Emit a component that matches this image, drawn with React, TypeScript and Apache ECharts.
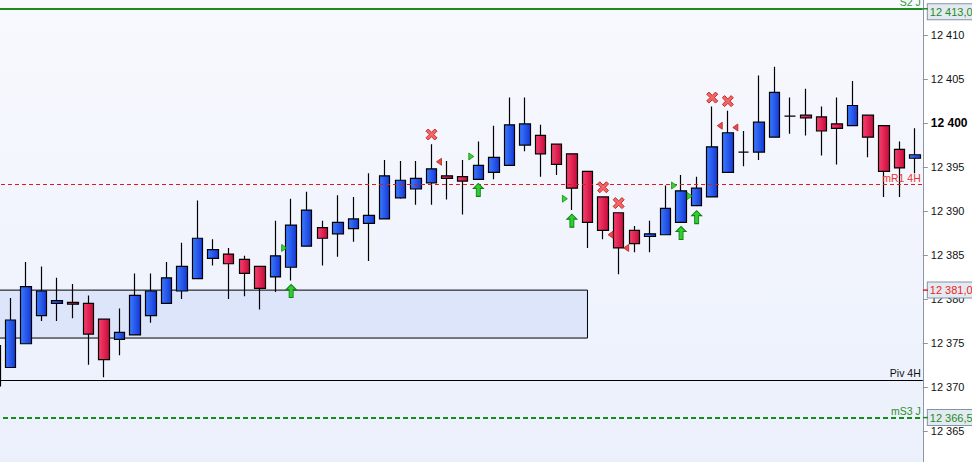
import React, { useEffect, useRef } from 'react';
import * as echarts from 'echarts';

// OHLC per bar (first bar is partly hidden at the left edge)
const opens = [12370.1, 12372.2, 12374.9, 12378.1, 12379.5, 12379.6, 12379.5, 12377.7, 12375.4, 12375.9,
  12378.1, 12379.5, 12380.9, 12382.3, 12384.6, 12385.1, 12384.5, 12383.7, 12382.5, 12383.6,
  12386.0, 12388.1, 12387.4, 12388.0, 12388.6, 12389.1, 12391.5, 12392.5, 12393.2, 12394.0,
  12393.9, 12393.6, 12394.4, 12395.2, 12397.5, 12398.6, 12397.6, 12396.5, 12394.5, 12391.6,
  12389.8, 12387.8, 12387.1, 12387.3, 12388.7, 12390.6, 12391.6, 12394.4, 12396.7, 12396.7,
  12398.4, 12400.8, 12400.9, 12400.7, 12399.9, 12399.7, 12400.9, 12399.7, 12397.0, 12396.0];
const closes = [12374.7, 12377.6, 12381.4, 12380.9, 12379.8, 12379.4, 12376.0, 12373.1, 12376.2, 12380.4,
  12380.9, 12382.4, 12383.7, 12386.9, 12385.6, 12384.0, 12382.9, 12381.2, 12384.9, 12388.4,
  12390.1, 12386.9, 12388.7, 12389.1, 12389.5, 12394.0, 12393.5, 12393.7, 12394.8, 12393.7,
  12393.4, 12395.2, 12396.1, 12399.8, 12399.9, 12396.5, 12395.3, 12392.6, 12388.7, 12387.8,
  12385.8, 12386.3, 12387.4, 12390.3, 12392.3, 12392.6, 12397.3, 12398.9, 12396.7, 12400.1,
  12403.5, 12400.8, 12400.6, 12399.1, 12399.4, 12402.0, 12398.4, 12394.5, 12394.9, 12396.4];
const lows = [12369.7, 12372.2, 12374.9, 12377.5, 12377.5, 12377.8, 12372.5, 12371.1, 12373.6, 12375.9,
  12377.3, 12379.5, 12380.0, 12382.3, 12383.8, 12380.0, 12380.3, 12378.8, 12380.8, 12382.1,
  12386.0, 12383.8, 12384.8, 12386.5, 12384.3, 12389.1, 12391.4, 12390.7, 12390.7, 12391.3,
  12389.6, 12393.6, 12393.6, 12395.2, 12396.8, 12393.9, 12394.1, 12390.1, 12385.8, 12386.8,
  12382.8, 12385.3, 12385.3, 12387.3, 12388.7, 12390.6, 12391.6, 12394.4, 12395.1, 12395.8,
  12398.4, 12398.8, 12398.6, 12396.3, 12395.3, 12399.7, 12396.1, 12391.6, 12391.6, 12394.3];
const highs = [12375.0, 12380.1, 12384.2, 12383.7, 12382.4, 12381.7, 12380.4, 12377.7, 12378.9, 12382.9,
  12382.9, 12384.2, 12386.4, 12391.2, 12386.8, 12385.8, 12384.9, 12383.7, 12388.9, 12391.4,
  12392.2, 12388.9, 12391.8, 12391.6, 12394.3, 12395.8, 12395.7, 12395.7, 12397.6, 12395.7,
  12395.8, 12397.9, 12399.7, 12402.9, 12402.9, 12399.8, 12397.6, 12396.5, 12394.5, 12391.6,
  12389.8, 12388.3, 12388.9, 12392.9, 12394.1, 12393.9, 12401.9, 12401.4, 12399.1, 12405.4,
  12406.4, 12402.9, 12403.9, 12401.9, 12402.9, 12404.8, 12400.9, 12399.7, 12397.9, 12399.4];
const categories = opens.map((_, k) => `Bar ${k + 1}`);

// price axis ticks
const priceTicks = [12365, 12370, 12375, 12380, 12385, 12390, 12395, 12400, 12405, 12410];
const boldTick = 12400;

// signal markers: bar index + price
const crossIdx = [28, 39, 40, 46, 47];
const crossVal = [12398.7, 12392.7, 12390.9, 12402.9, 12402.5];
const sellTriIdx = [28, 39, 40, 46, 47];
const sellTriVal = [12395.6, 12387.3, 12385.8, 12399.7, 12399.5];
const buyTriIdx = [19, 31, 37, 44, 45];
const buyTriVal = [12385.8, 12396.2, 12391.4, 12392.9, 12391.7];
const arrowIdx = [19, 31, 37, 44, 45];
const arrowVal = [12380.9, 12392.4, 12388.9, 12387.5, 12389.3];

// horizontal levels
const levelNames = ['S2 J', 'mR1 4H', 'Piv 4H', 'mS3 J'];
const levelValues = [12413.0, 12393.0, 12370.8, 12366.5];
const boxedValues = [12413.0, 12381.0, 12366.5];

// zone rectangle
const zoneTop = 12381.0;
const zoneBottom = 12375.55;
const zoneStartIdx = 0;
const zoneEndIdx = 38;

const FONT = '"Liberation Sans", Arial, sans-serif';
const SHIFT = 13.1; // chart canvas starts left of the page so the first bar is cut
const W = 972 + SHIFT;
const GRID_RIGHT = 49.2;

export default function App() {
  const ref = useRef<HTMLDivElement>(null);

  useEffect(() => {
    const el = ref.current as HTMLDivElement;
    const chart = echarts.init(el, null, { renderer: 'svg' });

    const candleData = opens.map((o, k) => [o, closes[k], lows[k], highs[k]]);
    const pts = (idx: number[], val: number[]) => idx.map((k, j) => [k, val[j]]);
    const fmtInt = (v: number) => {
      const s = String(Math.round(v));
      return s.slice(0, -3) + ' ' + s.slice(-3);
    };
    const fmtBox = (v: number) => {
      const [ip, dp] = v.toFixed(1).split('.');
      return ip.slice(0, -3) + ' ' + ip.slice(-3) + ',' + dp;
    };

    const levelStyles: any[] = [
      { line: { color: '#1e8a1e', width: 2, type: 'solid' }, text: '#2e9a2e' },
      { line: { color: '#e01a1a', width: 1, type: [4, 3] }, text: '#f03434' },
      { line: { color: '#000000', width: 1, type: 'solid' }, text: '#101010' },
      { line: { color: '#139013', width: 2, type: [5, 3] }, text: '#2a8f2a' },
    ];
    const boxedColors = ['#1e8a1e', '#ee1c1c', '#1e8a1e'];
    const boxedOffsets = [[0, 3], [0, 0], [0, 0]];

    const levelLines = levelValues.map((v, j) => ({
      yAxis: v,
      lineStyle: levelStyles[j].line,
      label: {
        show: true,
        position: 'insideEndTop',
        distance: [2, 1],
        formatter: levelNames[j],
        color: levelStyles[j].text,
        fontSize: 10.5,
        fontFamily: FONT,
      },
    }));
    const boxLines = boxedValues.map((v, j) => ({
      yAxis: v,
      lineStyle: { color: 'rgba(0,0,0,0)', width: 1, type: 'solid' },
      label: {
        show: true,
        position: 'end',
        distance: 5,
        offset: boxedOffsets[j],
        formatter: () => fmtBox(v),
        color: boxedColors[j],
        fontSize: 11,
        fontFamily: FONT,
        backgroundColor: '#e4eaf1',
        borderColor: '#8494a8',
        borderWidth: 1,
        padding: [2, 10, 1, 2],
        lineHeight: 12,
      },
    }));

    const blueFill = new echarts.graphic.LinearGradient(0, 0, 1, 0, [
      { offset: 0, color: '#3a7bff' },
      { offset: 1, color: '#1538d6' },
    ]);
    const redFill = new echarts.graphic.LinearGradient(0, 0, 1, 0, [
      { offset: 0, color: '#f7416f' },
      { offset: 1, color: '#c70a3b' },
    ]);

    chart.setOption({
      animation: false,
      backgroundColor: '#ffffff',
      grid: {
        left: 0,
        right: GRID_RIGHT,
        top: 0,
        bottom: 0,
        show: true,
        borderWidth: 0,
        backgroundColor: new echarts.graphic.LinearGradient(0, 0, 0, 1, [
          { offset: 0, color: '#f8f9fe' },
          { offset: 1, color: '#ebf0fc' },
        ]),
      },
      xAxis: {
        type: 'category',
        data: categories,
        boundaryGap: true,
        axisLine: { show: false },
        axisTick: { show: false },
        axisLabel: { show: false },
        splitLine: { show: false },
      },
      yAxis: {
        type: 'value',
        position: 'right',
        min: 12361.45,
        max: 12414.0,
        scale: true,
        splitLine: { show: false },
        axisLine: { show: true, lineStyle: { color: '#8c96a2', width: 1 } },
        axisTick: { show: true, length: 5, lineStyle: { color: '#8c96a2' }, customValues: priceTicks },
        axisLabel: {
          customValues: priceTicks,
          margin: 8,
          color: '#111111',
          fontSize: 11,
          fontFamily: FONT,
          formatter: (v: number) => (v === boldTick ? `{b|${fmtInt(v)}}` : fmtInt(v)),
          rich: { b: { fontWeight: 'bold', fontSize: 12, color: '#000000', fontFamily: FONT } },
        },
      },
      series: [
        {
          type: 'line',
          name: 'levels',
          data: closes,
          showSymbol: false,
          symbol: 'none',
          lineStyle: { opacity: 0, width: 0 },
          silent: true,
          z: 1,
          clip: false,
          markArea: {
            silent: true,
            itemStyle: { color: '#dde5fa', borderColor: '#000000', borderWidth: 1 },
            data: [[
              { xAxis: categories[zoneStartIdx], yAxis: zoneTop },
              { xAxis: categories[zoneEndIdx], yAxis: zoneBottom },
            ]],
          },
          markLine: {
            silent: true,
            symbol: 'none',
            animation: false,
            data: [...levelLines, ...boxLines],
          },
        },
        {
          type: 'candlestick',
          name: 'price',
          data: candleData,
          barWidth: 11,
          z: 3,
          itemStyle: {
            color: blueFill,
            color0: redFill,
            borderColor: '#000000',
            borderColor0: '#000000',
            borderColorDoji: '#000000',
            borderWidth: 1.2,
          },
        },
        {
          type: 'scatter',
          name: 'exit',
          data: pts(crossIdx, crossVal),
          symbol: 'path://M2,0 L5,3 L8,0 L10,2 L7,5 L10,8 L8,10 L5,7 L2,10 L0,8 L3,5 L0,2 Z',
          symbolSize: [11, 11],
          itemStyle: { color: '#f26666', borderColor: '#c22c2c', borderWidth: 1, opacity: 1 },
          z: 5,
          silent: true,
        },
        {
          type: 'scatter',
          name: 'sellTri',
          data: pts(sellTriIdx, sellTriVal),
          symbol: 'path://M0,3.5 L5,0 L5,7 Z',
          symbolSize: [5, 7],
          symbolOffset: [7.5, 0],
          itemStyle: { color: '#ea4a4a', borderColor: '#b82020', borderWidth: 0.8, opacity: 1 },
          z: 5,
          silent: true,
        },
        {
          type: 'scatter',
          name: 'buyTri',
          data: pts(buyTriIdx, buyTriVal),
          symbol: 'path://M0,0 L5,3.5 L0,7 Z',
          symbolSize: [5, 7],
          symbolOffset: [-7, 0],
          itemStyle: { color: '#3cd23c', borderColor: '#0f8f0f', borderWidth: 0.8, opacity: 1 },
          z: 5,
          silent: true,
        },
        {
          type: 'scatter',
          name: 'buyArrow',
          data: pts(arrowIdx, arrowVal),
          symbol: 'path://M5,0 L10,5 L7,5 L7,13 L3,13 L3,5 L0,5 Z',
          symbolSize: [10, 13],
          itemStyle: { color: '#34cc34', borderColor: '#0c860c', borderWidth: 1, opacity: 1 },
          z: 5,
          silent: true,
        },
      ],
    });

    const xr = W - GRID_RIGHT;
    chart.setOption({
      graphic: boxedValues.map((v, j) => {
        const y = chart.convertToPixel({ yAxisIndex: 0 }, v) as number;
        return {
          type: 'line',
          z: 10,
          silent: true,
          shape: { x1: xr, y1: y, x2: xr + 5, y2: y },
          style: { stroke: boxedColors[j], lineWidth: 1.5 },
        };
      }),
    });

    return () => {
      chart.dispose();
    };
  }, []);

  return (
    <div style={{ position: 'fixed', left: 0, top: 0, width: 972, height: 462, overflow: 'hidden', background: '#ffffff' }}>
      <div
        ref={ref}
        style={{ position: 'absolute', left: -SHIFT, top: 0, width: W, height: 462 }}
      />
    </div>
  );
}
